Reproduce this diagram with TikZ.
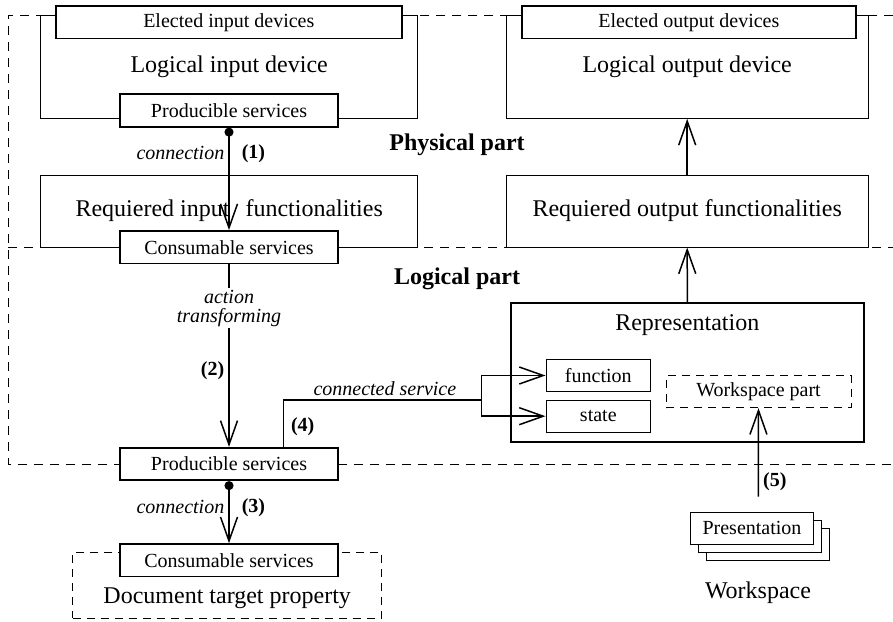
\documentclass[tikz,border=0pt]{standalone}
\usepackage{fontspec}
\setmainfont{Liberation Serif}
\usetikzlibrary{arrows.meta,calc}

\begin{document}
\begin{tikzpicture}[
  x=0.5pt, y=-0.5pt,
  big/.style={draw, line width=0.5pt, fill=white, inner sep=0pt,
              font=\fontsize{12}{14}\selectfont, minimum width=188.5pt},
  svc/.style={draw, line width=0.9pt, fill=white, inner sep=0pt,
              font=\fontsize{10}{12}\selectfont,
              minimum width=108.7pt, minimum height=16.2pt},
  small/.style={draw, line width=0.5pt, fill=white, inner sep=0pt,
              font=\fontsize{10}{12}\selectfont, minimum height=16.2pt},
  dashbox/.style={draw, dash pattern=on 4pt off 3pt, line width=0.5pt,
              inner sep=0pt, font=\fontsize{10}{12}\selectfont},
  frame/.style={dash pattern=on 4.5pt off 3.5pt, line width=0.5pt},
  arr/.style={-{Straight Barb[length=12pt, width=8.5pt]}, line width=0.75pt},
  conn/.style={{Circle[length=4.5pt]}-{Straight Barb[length=12pt, width=8.5pt]},
              line width=0.75pt},
  lbl/.style={font=\fontsize{10}{9.5}\selectfont\itshape, align=center,
              inner sep=2pt},
  num/.style={font=\fontsize{10}{12}\selectfont\bfseries, inner sep=2pt},
  part/.style={font=\fontsize{12}{14}\selectfont\bfseries},
  txt/.style={font=\fontsize{12}{14}\selectfont, inner sep=0pt},
]
\useasboundingbox (0,0) rectangle (893,621);

% ---------------- physical / logical frame ---------------------------
\draw[frame] (893,15) -- (8,15) -- (8,464) -- (893,464);
\draw[frame] (8,247) -- (893,247);

\node[part] (phys) at (457,145) {Physical part};
\node[part] (logi) at (457,279) {Logical part};

% ---------------- input side -----------------------------------------
\node[big, minimum height=51.7pt] (lid) at (229.2,66.7) {Logical input device};
\node[svc, minimum width=172.8pt] (eid) at (228.8,22.2) {Elected input devices};
\node[svc] (prodA) at (229,110.5) {Producible services};

\node[big, minimum height=36pt] (rif) at (229.2,211)
  {Requiered input\hspace{5pt} functionalities};
\node[svc] (consA) at (229,247.2) {Consumable services};

\node[svc] (prodB) at (229,464) {Producible services};

\node[dashbox, minimum width=154.5pt, minimum height=32.8pt] (doc)
  at (227.2,585.5) {};
\node[svc] (consB) at (229,560.3) {Consumable services};
\node[txt] (doctxt) at (227.2,598.3) {Document target property};

% ---------------- output side ----------------------------------------
\node[big, minimum width=181.2pt, minimum height=51.7pt] (lod) at (687.2,66.7)
  {Logical output device};
\node[svc, minimum width=167.2pt] (eod) at (688.8,22.2) {Elected output devices};
\node[big, minimum width=181.2pt, minimum height=36pt] (rof) at (687.2,211)
  {Requiered output functionalities};

\node[draw, line width=0.9pt, minimum width=176.7pt, minimum height=69.5pt]
  (rep) at (687.3,372.8) {};
\node[txt] (reptxt) at (687.3,325) {Representation};
\node[small, minimum width=52.3pt] (fun) at (598.3,375.5) {function};
\node[small, minimum width=52.3pt] (sta) at (598.3,416.2) {state};
\node[dashbox, minimum width=92.5pt, minimum height=16pt] (wsp)
  at (758.5,391.7) {Workspace part};

% ---------------- workspace ------------------------------------------
\foreach \d in {16,8}
  \node[small, minimum width=61.3pt, minimum height=16pt] (pres\d)
    at (752+\d,528.3+\d) {};
\node[small, minimum width=61.3pt, minimum height=16pt] (pres)
  at (752,528.3) {Presentation};
\node[txt] (ws) at (758,592.7) {Workspace};
\coordinate (c5) at (758.3,496.7);

% ---------------- flow -----------------------------------------------
\draw[conn] (prodA) -- node[lbl, left, pos=0.25] {connection}
  node[num, right, pos=0.25, xshift=4pt] {(1)} (consA);
\draw[arr] (consA) -- node[lbl, fill=white, pos=0.24, inner sep=1pt]
  {action\\transforming}
  node[num, left, pos=0.58] {(2)} (prodB);
\draw[conn] (prodB) -- node[lbl, left, pos=0.42] {connection}
  node[num, right, pos=0.42, xshift=4pt] {(3)} (consB);

\coordinate (split) at (481.7,400);
\draw[line width=0.75pt] ($(prodB.north)+(54.3,0)$) |-
  node[lbl, above, pos=0.756] {connected service}
  node[num, right, pos=0.22, xshift=1.5pt] {(4)} (split);
\draw[arr] (split) |- (fun.west);
\draw[arr] (split) |- (sta.west);

\draw[arr] (rep.north) -- (rof.south);
\draw[arr] (rof.north) -- (lod.south);
\draw[arr] (c5) -- node[num, right, pos=0.17] {(5)} (wsp.south);

\end{tikzpicture}
\end{document}
